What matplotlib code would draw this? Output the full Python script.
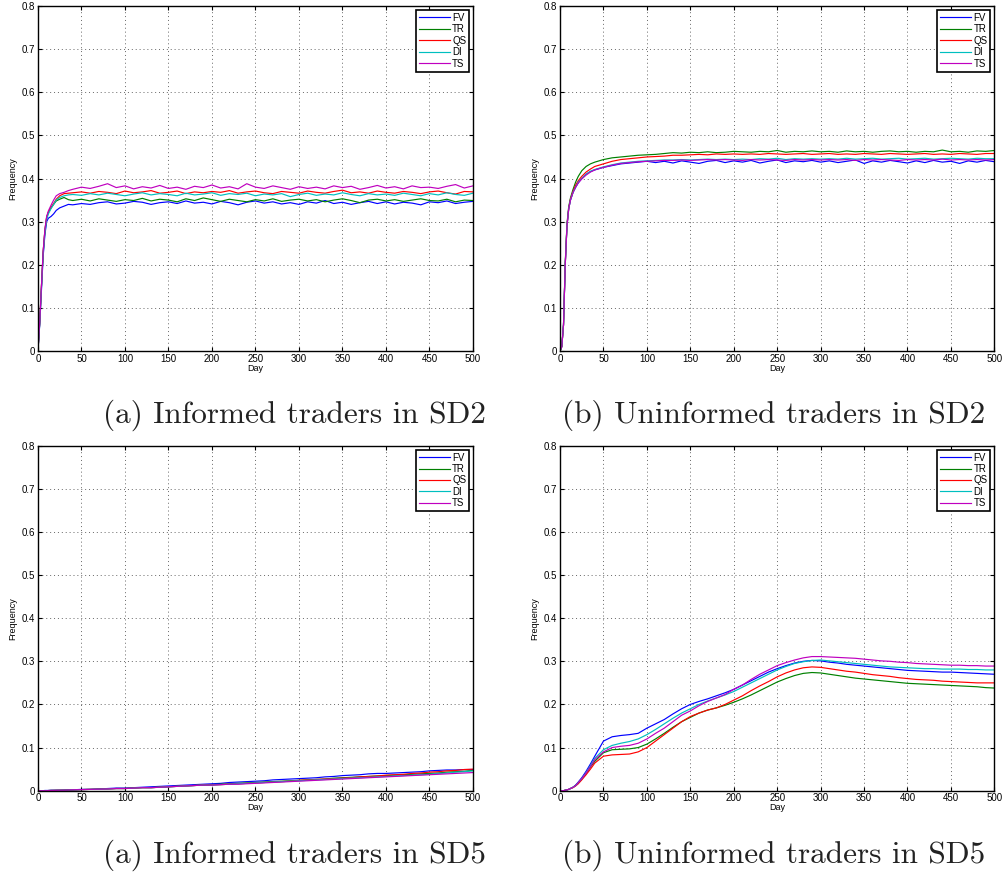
import matplotlib
matplotlib.use('Agg')
import matplotlib.pyplot as plt

# days sampled (finer near the start where curves climb)
days = [0, 2, 4, 6, 8, 10, 12, 15, 18, 21,
        25, 30, 35, 40, 50, 60, 70, 80, 90, 100,
        110, 120, 130, 140, 150, 160, 170, 180, 190, 200,
        210, 220, 230, 240, 250, 260, 270, 280, 290, 300,
        310, 320, 330, 340, 350, 360, 370, 380, 390, 400,
        410, 420, 430, 440, 450, 460, 470, 480, 490, 500]

names = ['FV', 'TR', 'QS', 'DI', 'TS']

# (a) informed traders in SD2
inf_sd2_fv = [0.000, 0.060, 0.140, 0.220, 0.270, 0.300, 0.308, 0.312, 0.318, 0.326,
              0.332, 0.336, 0.340, 0.339, 0.342, 0.340, 0.344, 0.346, 0.341, 0.343,
              0.347, 0.345, 0.340, 0.344, 0.346, 0.342, 0.348, 0.343, 0.345, 0.341,
              0.347, 0.344, 0.339, 0.345, 0.348, 0.343, 0.346, 0.341, 0.344, 0.340,
              0.346, 0.343, 0.349, 0.342, 0.345, 0.340, 0.344, 0.347, 0.342, 0.346,
              0.341, 0.345, 0.343, 0.339, 0.346, 0.344, 0.348, 0.342, 0.345, 0.347]
inf_sd2_tr = [0.000, 0.065, 0.150, 0.230, 0.280, 0.310, 0.322, 0.332, 0.340, 0.348,
              0.352, 0.356, 0.351, 0.349, 0.352, 0.348, 0.353, 0.350, 0.347, 0.351,
              0.349, 0.354, 0.348, 0.352, 0.350, 0.346, 0.353, 0.349, 0.355, 0.351,
              0.347, 0.352, 0.349, 0.346, 0.351, 0.348, 0.353, 0.347, 0.350, 0.352,
              0.348, 0.351, 0.346, 0.350, 0.353, 0.349, 0.344, 0.350, 0.352, 0.348,
              0.351, 0.347, 0.350, 0.353, 0.349, 0.348, 0.352, 0.346, 0.350, 0.349]
inf_sd2_qs = [0.000, 0.065, 0.150, 0.230, 0.280, 0.310, 0.322, 0.333, 0.342, 0.352,
              0.360, 0.365, 0.366, 0.367, 0.369, 0.366, 0.370, 0.368, 0.365, 0.371,
              0.367, 0.369, 0.372, 0.366, 0.368, 0.371, 0.365, 0.369, 0.367, 0.370,
              0.368, 0.372, 0.366, 0.369, 0.371, 0.367, 0.365, 0.370, 0.368, 0.366,
              0.371, 0.368, 0.366, 0.370, 0.373, 0.367, 0.369, 0.366, 0.371, 0.368,
              0.366, 0.370, 0.368, 0.365, 0.369, 0.371, 0.367, 0.364, 0.370, 0.369]
inf_sd2_di = [0.000, 0.062, 0.145, 0.225, 0.275, 0.305, 0.318, 0.330, 0.340, 0.350,
              0.356, 0.360, 0.362, 0.363, 0.361, 0.365, 0.362, 0.366, 0.363, 0.360,
              0.364, 0.367, 0.362, 0.365, 0.363, 0.360, 0.366, 0.362, 0.364, 0.367,
              0.361, 0.365, 0.363, 0.366, 0.360, 0.364, 0.362, 0.365, 0.358, 0.363,
              0.366, 0.361, 0.364, 0.362, 0.367, 0.363, 0.360, 0.365, 0.362, 0.364,
              0.361, 0.366, 0.363, 0.360, 0.365, 0.362, 0.367, 0.363, 0.361, 0.366]
inf_sd2_ts = [0.000, 0.065, 0.150, 0.232, 0.282, 0.312, 0.325, 0.338, 0.350, 0.360,
              0.365, 0.368, 0.372, 0.375, 0.380, 0.377, 0.382, 0.388, 0.379, 0.383,
              0.376, 0.381, 0.378, 0.384, 0.377, 0.380, 0.375, 0.382, 0.379, 0.385,
              0.378, 0.381, 0.376, 0.388, 0.380, 0.377, 0.383, 0.379, 0.375, 0.381,
              0.377, 0.380, 0.376, 0.383, 0.379, 0.382, 0.375, 0.379, 0.384, 0.378,
              0.381, 0.376, 0.383, 0.379, 0.380, 0.377, 0.382, 0.386, 0.378, 0.383]

# (b) uninformed traders in SD2
uninf_sd2_fv = [0.000, 0.010, 0.060, 0.200, 0.290, 0.330, 0.350, 0.368, 0.380, 0.390,
                0.400, 0.410, 0.416, 0.420, 0.426, 0.430, 0.434, 0.436, 0.438, 0.440,
                0.437, 0.440, 0.436, 0.441, 0.438, 0.435, 0.440, 0.442, 0.437, 0.441,
                0.438, 0.442, 0.436, 0.440, 0.443, 0.437, 0.441, 0.439, 0.442, 0.438,
                0.441, 0.437, 0.440, 0.443, 0.435, 0.441, 0.438, 0.442, 0.439, 0.436,
                0.441, 0.437, 0.442, 0.438, 0.440, 0.435, 0.441, 0.438, 0.442, 0.439]
uninf_sd2_tr = [0.000, 0.010, 0.062, 0.205, 0.295, 0.335, 0.355, 0.375, 0.392, 0.405,
                0.418, 0.428, 0.434, 0.438, 0.444, 0.448, 0.450, 0.452, 0.454, 0.455,
                0.456, 0.458, 0.460, 0.459, 0.461, 0.460, 0.462, 0.460, 0.461, 0.463,
                0.462, 0.461, 0.463, 0.462, 0.465, 0.461, 0.463, 0.462, 0.464, 0.462,
                0.463, 0.461, 0.464, 0.462, 0.463, 0.461, 0.463, 0.464, 0.462, 0.463,
                0.461, 0.463, 0.462, 0.466, 0.462, 0.463, 0.461, 0.464, 0.463, 0.465]
uninf_sd2_qs = [0.000, 0.010, 0.060, 0.200, 0.290, 0.330, 0.352, 0.370, 0.385, 0.395,
                0.405, 0.415, 0.422, 0.428, 0.434, 0.440, 0.444, 0.446, 0.448, 0.450,
                0.451, 0.452, 0.454, 0.454, 0.455, 0.456, 0.455, 0.457, 0.456, 0.457,
                0.456, 0.457, 0.456, 0.458, 0.457, 0.456, 0.457, 0.458, 0.456, 0.457,
                0.458, 0.456, 0.457, 0.456, 0.458, 0.457, 0.456, 0.458, 0.457, 0.456,
                0.457, 0.458, 0.456, 0.457, 0.456, 0.458, 0.457, 0.456, 0.458, 0.458]
uninf_sd2_di = [0.000, 0.010, 0.060, 0.200, 0.290, 0.330, 0.350, 0.368, 0.380, 0.392,
                0.400, 0.410, 0.417, 0.421, 0.427, 0.432, 0.436, 0.438, 0.440, 0.441,
                0.442, 0.443, 0.443, 0.444, 0.443, 0.444, 0.445, 0.444, 0.445, 0.444,
                0.445, 0.444, 0.446, 0.445, 0.447, 0.444, 0.446, 0.445, 0.446, 0.445,
                0.446, 0.445, 0.447, 0.445, 0.446, 0.447, 0.445, 0.446, 0.447, 0.445,
                0.446, 0.447, 0.445, 0.446, 0.447, 0.446, 0.445, 0.447, 0.446, 0.446]
uninf_sd2_ts = [0.000, 0.010, 0.060, 0.200, 0.290, 0.330, 0.350, 0.368, 0.380, 0.390,
                0.399, 0.408, 0.415, 0.420, 0.426, 0.431, 0.435, 0.437, 0.439, 0.440,
                0.441, 0.442, 0.442, 0.443, 0.442, 0.443, 0.444, 0.443, 0.444, 0.443,
                0.442, 0.444, 0.443, 0.444, 0.443, 0.442, 0.444, 0.443, 0.444, 0.443,
                0.444, 0.443, 0.444, 0.442, 0.444, 0.443, 0.444, 0.443, 0.442, 0.444,
                0.443, 0.444, 0.443, 0.445, 0.443, 0.444, 0.443, 0.444, 0.443, 0.444]

# (a) informed traders in SD5
inf_sd5_fv = [0.000, 0.000, 0.000, 0.000, 0.0005, 0.0005, 0.0005, 0.001, 0.001, 0.001,
              0.001, 0.0015, 0.002, 0.002, 0.003, 0.003, 0.004, 0.005, 0.006, 0.006,
              0.007, 0.008, 0.009, 0.010, 0.011, 0.012, 0.013, 0.014, 0.015, 0.016,
              0.017, 0.019, 0.020, 0.021, 0.022, 0.023, 0.025, 0.026, 0.027, 0.028,
              0.029, 0.030, 0.032, 0.033, 0.035, 0.036, 0.037, 0.039, 0.040, 0.040,
              0.041, 0.042, 0.043, 0.044, 0.046, 0.047, 0.048, 0.048, 0.049, 0.049]
inf_sd5_tr = [0.000, 0.000, 0.000, 0.000, 0.000, 0.000, 0.0003, 0.0005, 0.0006, 0.0008,
              0.001, 0.001, 0.0015, 0.002, 0.0025, 0.003, 0.0035, 0.004, 0.005, 0.005,
              0.006, 0.007, 0.007, 0.008, 0.009, 0.010, 0.011, 0.012, 0.013, 0.014,
              0.015, 0.016, 0.017, 0.018, 0.019, 0.020, 0.021, 0.022, 0.023, 0.024,
              0.025, 0.026, 0.027, 0.029, 0.030, 0.031, 0.032, 0.033, 0.034, 0.035,
              0.036, 0.037, 0.038, 0.039, 0.040, 0.041, 0.043, 0.044, 0.045, 0.047]
inf_sd5_qs = [0.000, 0.000, 0.000, 0.000, 0.000, 0.000, 0.0003, 0.0005, 0.0006, 0.0008,
              0.001, 0.001, 0.0015, 0.002, 0.0025, 0.003, 0.0035, 0.004, 0.005, 0.005,
              0.006, 0.007, 0.007, 0.008, 0.009, 0.010, 0.011, 0.012, 0.013, 0.013,
              0.014, 0.015, 0.016, 0.017, 0.018, 0.019, 0.020, 0.021, 0.022, 0.024,
              0.025, 0.026, 0.027, 0.028, 0.029, 0.030, 0.032, 0.033, 0.034, 0.036,
              0.037, 0.038, 0.040, 0.041, 0.043, 0.044, 0.046, 0.047, 0.049, 0.050]
inf_sd5_di = [0.000, 0.000, 0.000, 0.000, 0.000, 0.000, 0.0003, 0.0005, 0.0006, 0.0008,
              0.001, 0.001, 0.0015, 0.002, 0.0025, 0.003, 0.0035, 0.004, 0.005, 0.005,
              0.006, 0.007, 0.007, 0.008, 0.009, 0.010, 0.011, 0.012, 0.013, 0.013,
              0.014, 0.015, 0.016, 0.017, 0.018, 0.019, 0.020, 0.021, 0.022, 0.023,
              0.024, 0.025, 0.026, 0.027, 0.028, 0.029, 0.030, 0.031, 0.032, 0.033,
              0.034, 0.035, 0.036, 0.037, 0.038, 0.040, 0.041, 0.043, 0.044, 0.046]
inf_sd5_ts = [0.000, 0.000, 0.000, 0.000, 0.000, 0.000, 0.0003, 0.0005, 0.0006, 0.0008,
              0.001, 0.001, 0.0015, 0.002, 0.0025, 0.003, 0.0035, 0.004, 0.005, 0.005,
              0.006, 0.007, 0.007, 0.008, 0.009, 0.010, 0.011, 0.012, 0.013, 0.013,
              0.014, 0.015, 0.015, 0.016, 0.017, 0.018, 0.019, 0.020, 0.021, 0.022,
              0.023, 0.024, 0.025, 0.026, 0.027, 0.028, 0.029, 0.030, 0.031, 0.032,
              0.033, 0.034, 0.035, 0.036, 0.037, 0.038, 0.039, 0.040, 0.041, 0.042]

# (b) uninformed traders in SD5
uninf_sd5_fv = [0.000, 0.000, 0.000, 0.001, 0.002, 0.003, 0.005, 0.008, 0.013, 0.020,
                0.030, 0.045, 0.062, 0.080, 0.115, 0.125, 0.128, 0.130, 0.133, 0.145,
                0.155, 0.165, 0.178, 0.190, 0.200, 0.207, 0.213, 0.220, 0.227, 0.235,
                0.245, 0.255, 0.265, 0.275, 0.283, 0.290, 0.296, 0.300, 0.302, 0.301,
                0.298, 0.296, 0.293, 0.291, 0.289, 0.287, 0.285, 0.283, 0.281, 0.279,
                0.278, 0.277, 0.276, 0.275, 0.275, 0.274, 0.273, 0.272, 0.271, 0.270]
uninf_sd5_tr = [0.000, 0.000, 0.000, 0.001, 0.002, 0.003, 0.005, 0.008, 0.012, 0.018,
                0.027, 0.040, 0.055, 0.068, 0.088, 0.095, 0.096, 0.097, 0.100, 0.108,
                0.120, 0.133, 0.147, 0.160, 0.170, 0.180, 0.187, 0.192, 0.198, 0.205,
                0.213, 0.222, 0.232, 0.242, 0.252, 0.260, 0.267, 0.272, 0.274, 0.273,
                0.270, 0.267, 0.264, 0.261, 0.259, 0.257, 0.255, 0.253, 0.251, 0.249,
                0.248, 0.247, 0.246, 0.245, 0.244, 0.243, 0.242, 0.241, 0.239, 0.238]
uninf_sd5_qs = [0.000, 0.000, 0.000, 0.001, 0.002, 0.003, 0.005, 0.007, 0.011, 0.016,
                0.025, 0.037, 0.050, 0.064, 0.080, 0.083, 0.084, 0.085, 0.090, 0.100,
                0.115, 0.130, 0.145, 0.160, 0.172, 0.180, 0.187, 0.192, 0.200, 0.210,
                0.220, 0.232, 0.243, 0.253, 0.264, 0.273, 0.280, 0.285, 0.287, 0.286,
                0.283, 0.280, 0.277, 0.275, 0.272, 0.269, 0.267, 0.265, 0.262, 0.260,
                0.258, 0.257, 0.256, 0.254, 0.253, 0.252, 0.251, 0.250, 0.250, 0.250]
uninf_sd5_di = [0.000, 0.000, 0.000, 0.001, 0.002, 0.003, 0.005, 0.008, 0.012, 0.019,
                0.028, 0.042, 0.058, 0.075, 0.095, 0.105, 0.110, 0.114, 0.120, 0.130,
                0.142, 0.155, 0.168, 0.180, 0.190, 0.200, 0.208, 0.215, 0.222, 0.230,
                0.240, 0.250, 0.260, 0.270, 0.280, 0.288, 0.295, 0.299, 0.302, 0.303,
                0.301, 0.299, 0.297, 0.295, 0.293, 0.291, 0.289, 0.287, 0.286, 0.285,
                0.284, 0.283, 0.283, 0.282, 0.282, 0.282, 0.281, 0.281, 0.280, 0.280]
uninf_sd5_ts = [0.000, 0.000, 0.000, 0.001, 0.002, 0.003, 0.005, 0.008, 0.012, 0.019,
                0.028, 0.041, 0.056, 0.072, 0.090, 0.100, 0.103, 0.105, 0.110, 0.120,
                0.133, 0.145, 0.160, 0.175, 0.185, 0.197, 0.207, 0.215, 0.223, 0.235,
                0.245, 0.258, 0.270, 0.280, 0.290, 0.297, 0.303, 0.308, 0.311, 0.311,
                0.310, 0.309, 0.308, 0.307, 0.305, 0.303, 0.301, 0.300, 0.298, 0.297,
                0.295, 0.294, 0.293, 0.292, 0.291, 0.291, 0.290, 0.290, 0.289, 0.289]

captions = ['(a) Informed traders in SD2', '(b) Uninformed traders in SD2',
            '(a) Informed traders in SD5', '(b) Uninformed traders in SD5']

panels = [
    [inf_sd2_fv, inf_sd2_tr, inf_sd2_qs, inf_sd2_di, inf_sd2_ts],
    [uninf_sd2_fv, uninf_sd2_tr, uninf_sd2_qs, uninf_sd2_di, uninf_sd2_ts],
    [inf_sd5_fv, inf_sd5_tr, inf_sd5_qs, inf_sd5_di, inf_sd5_ts],
    [uninf_sd5_fv, uninf_sd5_tr, uninf_sd5_qs, uninf_sd5_di, uninf_sd5_ts],
]

# matlab default line colours
colors = ['#0000ff', '#008000', '#ff0000', '#00bfbf', '#bf00bf']

plt.rcParams['font.family'] = ['Liberation Sans', 'DejaVu Sans']

fig = plt.figure(figsize=(10.04, 8.76), dpi=100)

# axes rectangles in figure fractions [left, bottom, width, height]
rects = [[0.0378, 0.5993, 0.4333, 0.3938],
         [0.5578, 0.5993, 0.4326, 0.3938],
         [0.0378, 0.0974, 0.4333, 0.3938],
         [0.5578, 0.0974, 0.4326, 0.3938]]
# caption centres (x) and baselines (y) in figure fractions
cap_x = [0.2933, 0.7705, 0.2933, 0.7705]
cap_y = [0.5170, 0.5170, 0.0150, 0.0150]

for i in range(4):
    ax = fig.add_axes(rects[i])
    for s in range(5):
        ax.plot(days, panels[i][s], color=colors[s], linewidth=0.85, label=names[s])
    ax.set_xlim(0, 500)
    ax.set_ylim(0, 0.8)
    ax.set_xticks(range(0, 501, 50))
    ax.set_yticks([0, 0.1, 0.2, 0.3, 0.4, 0.5, 0.6, 0.7, 0.8])
    ax.set_yticklabels(['0', '0.1', '0.2', '0.3', '0.4', '0.5', '0.6', '0.7', '0.8'])
    ax.tick_params(direction='in', top=True, right=True, labelsize=7, length=3,
                   width=0.8, pad=2)
    ax.grid(True, linestyle=(0, (1, 3)), color='#666666', linewidth=0.7)
    for sp in ax.spines.values():
        sp.set_linewidth(1.0)
    ax.set_xlabel('Day', fontsize=6.5, labelpad=0)
    ax.set_ylabel('Frequency', fontsize=6.5, labelpad=3)
    leg = ax.legend(loc='upper right', fontsize=7, fancybox=False, framealpha=1,
                    edgecolor='black', handlelength=3.2, handletextpad=0.2,
                    borderpad=0.3, labelspacing=0.15, borderaxespad=0.4)
    leg.get_frame().set_linewidth(1.2)
    fig.text(cap_x[i], cap_y[i], captions[i], family='cmr10', fontsize=22.5,
             ha='center', va='baseline', color='#222222')

fig.savefig('out.png', dpi=100)
